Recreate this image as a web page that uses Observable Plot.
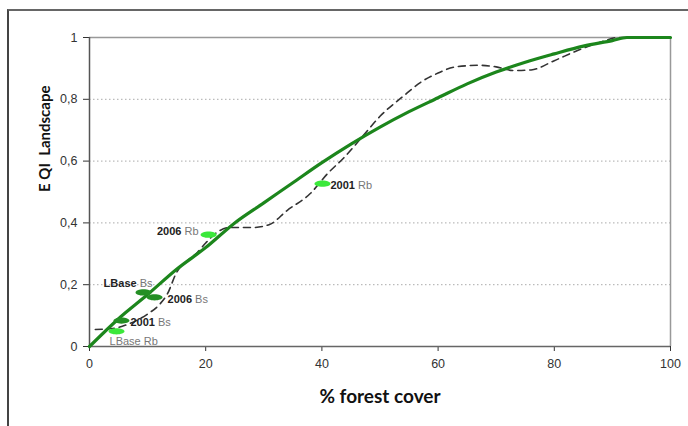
<!DOCTYPE html>
<html>
<head>
<meta charset="utf-8">
<script src="https://cdn.jsdelivr.net/npm/d3@7"></script>
<script src="https://cdn.jsdelivr.net/npm/@observablehq/plot@0.6"></script>
<style>
  html, body { margin: 0; padding: 0; background: #fff; }
  #wrap { position: relative; width: 688px; height: 426px; overflow: hidden; }
  #frame { position: absolute; left: 7px; top: 9px; width: 690px; height: 430px;
           border-top: 2px solid #666; border-left: 2px solid #444; pointer-events: none; }
</style>
</head>
<body>
<div id="wrap"><div id="frame"></div></div>
<script>
// ---- data ----
const solidX = [0, 5, 10, 15, 20, 25, 30, 35, 40, 45, 50, 55, 60, 65, 70, 75, 80, 85, 90, 92.5, 100];
const solidY = [0, 0.09, 0.168, 0.25, 0.32, 0.40, 0.465, 0.53, 0.595, 0.655, 0.71, 0.76, 0.805, 0.85, 0.888, 0.92, 0.947, 0.972, 0.99, 1, 1];

const dashedX = [1, 4, 7, 10, 12, 13.4, 15, 17, 18.6, 20, 22, 24, 28, 31, 34, 38, 41, 44, 47, 50, 54, 57, 60, 63, 67, 70, 73, 76, 80, 84, 88, 91, 100];
const dashedY = [0.055, 0.058, 0.075, 0.105, 0.135, 0.17, 0.24, 0.28, 0.305, 0.335, 0.37, 0.385, 0.385, 0.395, 0.44, 0.495, 0.56, 0.615, 0.68, 0.745, 0.81, 0.855, 0.885, 0.905, 0.91, 0.905, 0.893, 0.895, 0.925, 0.958, 0.985, 1, 1];

const labelNames = ["LBase Rb", "2001 Bs", "LBase Bs", "2006 Bs", "2006 Rb", "2001 Rb"];
const labelX = [4.65, 5.5, 9.3, 11.2, 20.5, 40.1];
const labelY = [0.049, 0.084, 0.175, 0.159, 0.362, 0.527];
const labelSeries = ["Rb", "Bs", "Bs", "Bs", "Rb", "Rb"];

const xTicks = [0, 20, 40, 60, 80, 100];
const yTicks = [0, 0.2, 0.4, 0.6, 0.8, 1];
const gridTicks = [0.2, 0.4, 0.6, 0.8];
const xTitle = "% forest cover";
const yTitle = "E QI  Landscape";

// ---- layout (offsets in px, not data) ----
const labelLayout = {
  "LBase Rb": {anchor: "start", dx: -7, dy: 10, plain: true},
  "2001 Bs":  {anchor: "start", dx: 9,  dy: 2},
  "LBase Bs": {anchor: "end",   dx: 9,  dy: -9},
  "2006 Bs":  {anchor: "start", dx: 13, dy: 2},
  "2006 Rb":  {anchor: "end",   dx: -10, dy: -3},
  "2001 Rb":  {anchor: "start", dx: 8,  dy: 2}
};

const solid = solidX.map((x, i) => ({x, y: solidY[i]}));
const dashed = dashedX.map((x, i) => ({x, y: dashedY[i]}));
const points = labelNames.map((name, i) => ({name, x: labelX[i], y: labelY[i], series: labelSeries[i]}));

const ellipse = {
  draw(ctx, size) {
    const r = Math.sqrt(size / Math.PI);
    const rx = r * 2, ry = r * 0.78, k = 0.5523;
    ctx.moveTo(rx, 0);
    ctx.bezierCurveTo(rx, ry * k, rx * k, ry, 0, ry);
    ctx.bezierCurveTo(-rx * k, ry, -rx, ry * k, -rx, 0);
    ctx.bezierCurveTo(-rx, -ry * k, -rx * k, -ry, 0, -ry);
    ctx.bezierCurveTo(rx * k, -ry, rx, -ry * k, rx, 0);
    ctx.closePath();
  }
};

const labelMarks = points.map(p => {
  const L = labelLayout[p.name];
  return Plot.text([p], {
    x: "x", y: "y", text: "name",
    textAnchor: L.anchor, dx: L.dx, dy: L.dy,
    fontSize: 11, fontFamily: "Liberation Sans, Arial, sans-serif",
    fill: "#777"
  });
});

const chart = Plot.plot({
  width: 688, height: 426,
  marginLeft: 89, marginRight: 18, marginTop: 37, marginBottom: 80,
  style: {fontFamily: "Liberation Sans, Arial, sans-serif", fontSize: "12.5px", color: "#333", background: "transparent"},
  x: {domain: [0, 100], ticks: xTicks, tickSize: 5, tickPadding: 8, label: null},
  y: {domain: [0, 1], ticks: yTicks, tickSize: 6, tickPadding: 6, label: null,
      tickFormat: d => String(d).replace(".", ",")},
  marks: [
    Plot.ruleY(gridTicks, {stroke: "#aaa", strokeDasharray: "1.5,2.5", strokeWidth: 1}),
    Plot.ruleY([1], {stroke: "#999", strokeWidth: 1.5}),
    Plot.ruleX([100], {stroke: "#999", strokeWidth: 1.5}),
    Plot.ruleX([0], {stroke: "#555", strokeWidth: 1.5}),
    Plot.ruleY([0], {stroke: "#666", strokeWidth: 1.5}),
    Plot.line(dashed, {x: "x", y: "y", stroke: "#333", strokeWidth: 1.6, strokeDasharray: "7,5", curve: "monotone-x"}),
    Plot.line(solid, {x: "x", y: "y", stroke: "#1c861c", strokeWidth: 3.2, curve: "monotone-x"}),
    Plot.dot(points, {x: "x", y: "y", symbol: ellipse, r: 4,
      fill: d => d.series === "Rb" ? "#3be83b" : "#248f24", stroke: "none"}),
    ...labelMarks,
    Plot.text([xTitle], {frameAnchor: "bottom", dy: 56, text: d => d,
      fontSize: 19, fontWeight: "bold", fontFamily: "Lato, Open Sans, sans-serif", fill: "#111"}),
    Plot.text([yTitle], {frameAnchor: "left", dx: -44, dy: 0, rotate: -90, text: d => d,
      fontSize: 15, fontWeight: "bold", fontFamily: "Lato, Open Sans, sans-serif", fill: "#111"})
  ]
});

// mixed styling: first word bold dark, remainder gray (except the plain "LBase Rb" label)
const styled = new Set(labelNames.filter(n => !labelLayout[n].plain));
d3.select(chart).selectAll("text").each(function() {
  const t = d3.select(this);
  const s = t.text();
  if (!styled.has(s)) return;
  const i = s.indexOf(" ");
  t.text(null);
  t.append("tspan").attr("font-weight", "bold").attr("fill", "#222").text(s.slice(0, i));
  t.append("tspan").attr("fill", "#777").text(s.slice(i));
});

document.getElementById("wrap").prepend(chart);
</script>
</body>
</html>
